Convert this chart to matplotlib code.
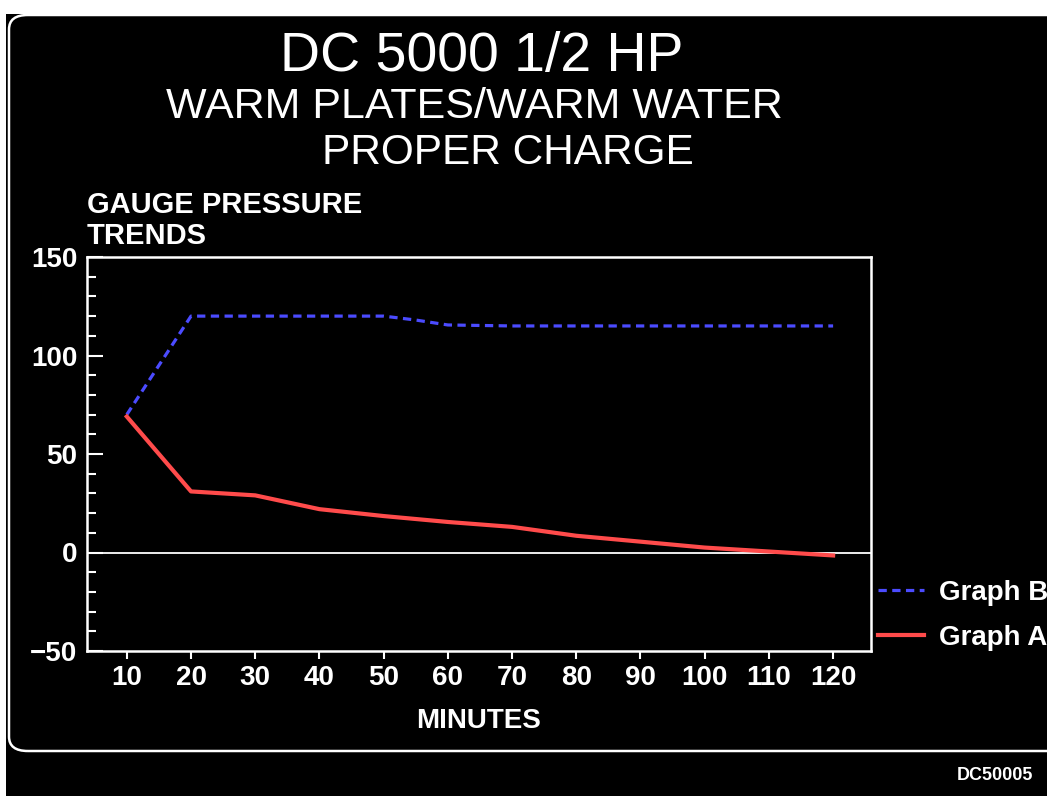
import matplotlib
matplotlib.use("Agg")
import matplotlib.pyplot as plt
from matplotlib.patches import Rectangle, FancyBboxPatch
from matplotlib.ticker import MultipleLocator

# data
minutes = [10, 20, 30, 40, 50, 55, 60, 70, 80, 90, 100, 110, 120]
graph_b = [70, 120, 120, 120, 120, 118, 115.5, 115, 115, 115, 115, 115, 115]
graph_a_minutes = [10, 20, 25, 30, 40, 50, 60, 70, 80, 90, 100, 110, 115, 120]
graph_a = [69, 31, 30, 29, 22, 18.5, 15.5, 13, 8.5, 5.5, 2.5, 0.5, -0.5, -1.5]
x_ticks = [10, 20, 30, 40, 50, 60, 70, 80, 90, 100, 110, 120]
y_ticks = [-50, 0, 50, 100, 150]

W, H = 1047, 796
BLUE = "#4b4bff"
RED = "#ff4b4b"
plt.rcParams['font.family'] = ['Liberation Sans', 'DejaVu Sans']


def fx(px):
    return px / W


def fy(py):
    return 1 - py / H


fig = plt.figure(figsize=(W / 100, H / 100), dpi=100, facecolor="white")

# black panel and rounded white frame
fig.patches.append(Rectangle((fx(6), 0), 1, fy(14), transform=fig.transFigure,
                             facecolor="black", edgecolor="none", zorder=-3))
fig.patches.append(FancyBboxPatch((fx(9), fy(751)), fx(1070) - fx(9), fy(15) - fy(751),
                                  boxstyle="round,pad=0,rounding_size=0.018",
                                  transform=fig.transFigure, facecolor="none",
                                  edgecolor="white", linewidth=1.8, zorder=-2))

ax = fig.add_axes([fx(87), fy(651), fx(871) - fx(87), fy(257) - fy(651)])
ax.set_facecolor("black")
for s in ax.spines.values():
    s.set_color("white")
    s.set_linewidth(1.8)

ax.axhline(0, color="white", linewidth=1.3, zorder=1)
lb, = ax.plot(minutes, graph_b, color=BLUE, linewidth=2.3, dashes=(2.6, 1.7), label="Graph B", zorder=3)
la, = ax.plot(graph_a_minutes, graph_a, color=RED, linewidth=3, label="Graph A", zorder=3)

ax.set_xlim(3.8, 125.9)
ax.set_ylim(-50, 150)
ax.set_xticks(x_ticks)
ax.set_yticks(y_ticks)
ax.yaxis.set_minor_locator(MultipleLocator(10))
ax.xaxis.set_minor_locator(plt.NullLocator())
ax.tick_params(axis="y", which="major", direction="in", length=11.5, width=1.5,
               color="white", labelcolor="white", labelsize=20, pad=7)
ax.tick_params(axis="y", which="minor", direction="in", length=6.5, width=1.5, color="white")
ax.tick_params(axis="x", which="major", direction="out", length=6, width=1.5,
               color="white", labelcolor="white", labelsize=20, pad=4)
ax.set_yticklabels(["\u221250", "0", "50", "100", "150"])
for lab in ax.get_xticklabels() + ax.get_yticklabels():
    lab.set_fontweight("bold")

ax.set_xlabel("MINUTES", color="white", fontsize=20, fontweight="bold", labelpad=12)

ax.legend(handles=[lb, la], loc="upper left", bbox_to_anchor=(fx(878), fy(580)),
          bbox_transform=fig.transFigure, frameon=False,
          prop={"weight": "bold", "size": 20}, labelcolor="white",
          handlelength=1.65, handletextpad=0.55, labelspacing=0.68, borderpad=0,
          borderaxespad=0)

fig.text(fx(482), fy(71), "DC 5000 1/2 HP", color="white", fontsize=40,
         ha="center", va="baseline")
fig.text(fx(474), fy(118), "WARM PLATES/WARM WATER", color="white", fontsize=31,
         ha="center", va="baseline")
fig.text(fx(508), fy(164), "PROPER CHARGE", color="white", fontsize=30.5,
         ha="center", va="baseline")
fig.text(fx(87), fy(213), "GAUGE PRESSURE", color="white", fontsize=21,
         fontweight="bold", ha="left", va="baseline")
fig.text(fx(87), fy(244), "TRENDS", color="white", fontsize=21,
         fontweight="bold", ha="left", va="baseline")
fig.text(fx(1033), fy(780), "DC50005", color="white", fontsize=13,
         fontweight="bold", ha="right", va="baseline")

fig.savefig("out.png", dpi=100, facecolor="white")
